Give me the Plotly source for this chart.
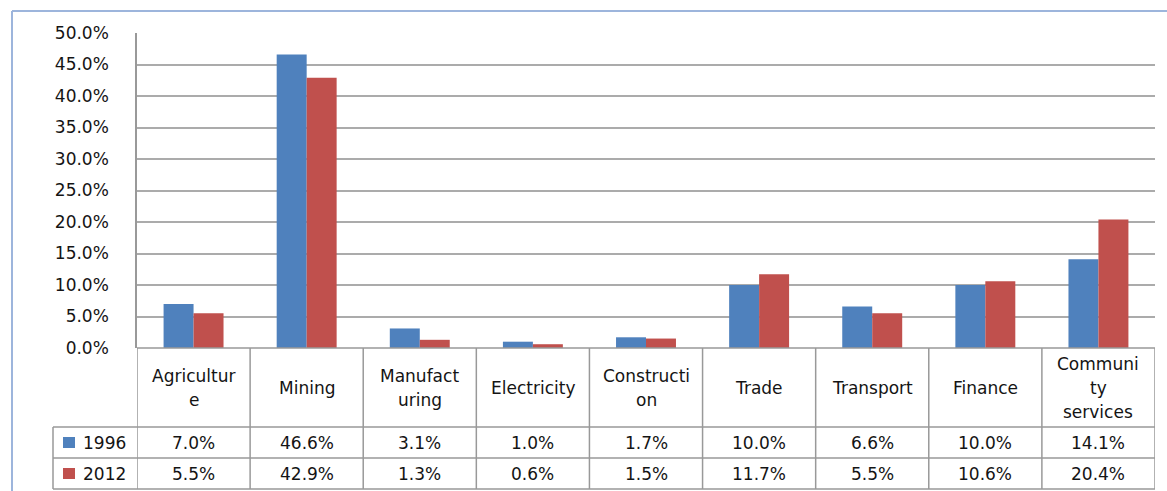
import plotly.graph_objects as go

categories = ["Agriculture", "Mining", "Manufacturing", "Electricity", "Construction",
              "Trade", "Transport", "Finance", "Community services"]
category_labels = [["Agricultur", "e"], ["Mining"], ["Manufact", "uring"], ["Electricity"],
                   ["Constructi", "on"], ["Trade"], ["Transport"], ["Finance"],
                   ["Communi", "ty", "services"]]
years = ["1996", "2012"]
share_1996 = [7.0, 46.6, 3.1, 1.0, 1.7, 10.0, 6.6, 10.0, 14.1]
share_2012 = [5.5, 42.9, 1.3, 0.6, 1.5, 11.7, 5.5, 10.6, 20.4]
y_ticks = [0, 5, 10, 15, 20, 25, 30, 35, 40, 45, 50]

colors = ["#4F81BD", "#C0504D"]
series = [share_1996, share_2012]

W, H = 1167, 491
L, R, T, B = 137, 12, 33, 143
PW, PH = W - L - R, H - T - B
Y0 = T + PH  # pixel row of 0%


def xp(px):
    return (px - L) / PW


def yp(py):
    return (Y0 - py) / PH


FONT = "DejaVu Sans"
FS = 17
TXT = "#141414"
LINE = "#999999"

fig = go.Figure()
for name, vals, col in zip(years, series, colors):
    fig.add_trace(go.Bar(x=categories, y=vals, name=name, marker=dict(color=col, line=dict(width=0)),
                         showlegend=False))

shapes = []
annotations = []

# table horizontal lines
row_edges = [Y0 + 79, Y0 + 110, Y0 + 141]
shapes.append(dict(type="line", xref="paper", yref="paper", x0=0, x1=1, y0=0, y1=0,
                   line=dict(color=LINE, width=1.5)))
for ry in row_edges:
    shapes.append(dict(type="line", xref="paper", yref="paper", x0=xp(53), x1=1, y0=yp(ry), y1=yp(ry),
                       line=dict(color=LINE, width=1.5)))
# vertical lines
for i in range(len(categories) + 1):
    shapes.append(dict(type="line", xref="x", yref="paper", x0=i - 0.5, x1=i - 0.5,
                       y0=0, y1=yp(row_edges[-1]), line=dict(color=LINE, width=1.5)))
shapes.append(dict(type="line", xref="paper", yref="paper", x0=xp(53), x1=xp(53),
                   y0=yp(row_edges[0]), y1=yp(row_edges[-1]), line=dict(color=LINE, width=1.5)))
# outer chart border
shapes.append(dict(type="line", xref="paper", yref="paper", x0=xp(12), x1=xp(12),
                   y0=yp(11), y1=yp(H), line=dict(color="#9db5dc", width=2)))
shapes.append(dict(type="line", xref="paper", yref="paper", x0=xp(12), x1=xp(W),
                   y0=yp(11), y1=yp(11), line=dict(color="#9db5dc", width=2)))

# category labels
cat_center = (Y0 + row_edges[0]) / 2
for cat, lines in zip(categories, category_labels):
    n = len(lines)
    for k, ln in enumerate(lines):
        yy = cat_center + (k - (n - 1) / 2) * 24
        annotations.append(dict(x=cat, y=yp(yy), xref="x", yref="paper", text=ln, showarrow=False,
                                xanchor="center", yanchor="middle",
                                font=dict(family=FONT, size=FS, color=TXT)))

# data rows
for r, (name, vals, col) in enumerate(zip(years, series, colors)):
    top, bot = row_edges[r], row_edges[r + 1]
    cy = (top + bot) / 2
    shapes.append(dict(type="rect", xref="paper", yref="paper", x0=xp(63), x1=xp(75),
                       y0=yp(cy - 5.5), y1=yp(cy + 5.5), fillcolor=col, line=dict(width=0)))
    annotations.append(dict(x=xp(81), y=yp(cy), xref="paper", yref="paper", text=name, showarrow=False,
                            xanchor="left", yanchor="middle",
                            font=dict(family=FONT, size=FS, color=TXT)))
    for cat, v in zip(categories, vals):
        annotations.append(dict(x=cat, y=yp(cy), xref="x", yref="paper", text=f"{v:.1f}%",
                                showarrow=False, xanchor="center", yanchor="middle",
                                font=dict(family=FONT, size=FS, color=TXT)))

fig.update_layout(
    width=W, height=H,
    margin=dict(l=L, r=R, t=T, b=B, pad=0),
    paper_bgcolor="white", plot_bgcolor="white",
    barmode="group", bargap=0.47, bargroupgap=0,
    shapes=shapes, annotations=annotations,
    xaxis=dict(type="category", range=[-0.5, len(categories) - 0.5], showticklabels=False,
               showgrid=False, zeroline=False, showline=False, ticks=""),
    yaxis=dict(range=[0, 50], tickvals=y_ticks, ticktext=[f"{v:.1f}%" for v in y_ticks],
               showgrid=True, gridcolor="#ababab", gridwidth=1.5, zeroline=False,
               showline=True, linecolor=LINE, linewidth=1.5, ticks="", ticklabelstandoff=23,
               tickfont=dict(family=FONT, size=FS, color=TXT)),
    font=dict(family=FONT, size=FS, color=TXT),
)

fig.write_html("out.html", config={"displayModeBar": False},
               post_script="document.body.style.margin='0';document.body.style.overflow='hidden';")
